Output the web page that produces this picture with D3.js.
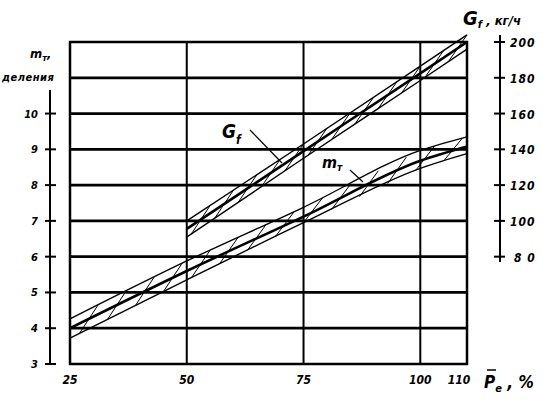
<!DOCTYPE html>
<html>
<head>
<meta charset="utf-8">
<script src="https://cdn.jsdelivr.net/npm/d3@7"></script>
<style>
 body{margin:0;background:#fff;}
 svg text{font-family:"DejaVu Sans Condensed","DejaVu Sans",sans-serif;font-style:italic;font-weight:bold;fill:#000;}
</style>
</head>
<body>
<svg id="chart" width="543" height="399"></svg>
<script>
// ---- data ----
const xTicks=[25,50,75,100,110];
const mTicks=[3,4,5,6,7,8,9,10];
const gTicks=[80,100,120,140,160,180,200];
const gridM=[4,5,6,7,8,9,10,11];
const gridX=[50,75,100];

// m_T band (scale divisions) vs load
const mLoad=[25,50,75,100,110];
const mMid=[4.0,5.6,7.12,8.68,9.08];
const mUp=[4.26,5.88,7.38,8.97,9.35];
const mLow=[3.72,5.35,6.95,8.47,8.88];

// G_f band (kg/h) vs load
const gLoad=[50,75,100,110];
const gMid=[95.5,139,182.5,200];
const gUp=[100,143,186.5,204];
const gLow=[91,135,178.5,196];

// hatch positions along the bands
const mHatch=[27,33,39,45,51,57,63,69,75,81,87,93,99,105];
const gHatch=[51,56,61,66,71,76,81,86,91,96,101,106];

const svg=d3.select("#chart");

const x=d3.scaleLinear().domain([25,110]).range([70,467]);
const y=d3.scaleLinear().domain([3,12]).range([364,42]);
const yG=d3.scaleLinear().domain([80,200]).range([y(6),y(12)]);

// ---- grid ----
svg.selectAll("line.hgrid").data(gridM).enter().append("line")
 .attr("x1",x(25)).attr("x2",x(110))
 .attr("y1",d=>y(d)).attr("y2",d=>y(d))
 .attr("stroke","#000").attr("stroke-width",2.8);

svg.selectAll("line.vgrid").data(gridX).enter().append("line")
 .attr("x1",d=>x(d)).attr("x2",d=>x(d))
 .attr("y1",y(3)).attr("y2",y(12))
 .attr("stroke","#000").attr("stroke-width",2);

svg.append("rect")
 .attr("x",x(25)).attr("y",y(12))
 .attr("width",x(110)-x(25)).attr("height",y(3)-y(12))
 .attr("fill","none").attr("stroke","#000").attr("stroke-width",2.5);

// ---- bands ----
function band(load,mid,up,low,ys,hatch){
 const line=d3.line().x((d,i)=>x(load[i])).y(d=>ys(d)).curve(d3.curveMonotoneX);
 const g=svg.append("g").attr("fill","none").attr("stroke","#000");
 g.append("path").attr("d",line(up)).attr("stroke-width",1.4);
 g.append("path").attr("d",line(low)).attr("stroke-width",1.4);
 g.append("path").attr("d",line(mid)).attr("stroke-width",2.6);
 const fUp=d3.scaleLinear().domain(load).range(up);
 const fLow=d3.scaleLinear().domain(load).range(low);
 const end=load[load.length-1];
 g.selectAll("line").data(hatch).enter().append("line")
  .attr("x1",d=>x(d)).attr("y1",d=>ys(fLow(d)))
  .attr("x2",d=>x(Math.min(d+4,end))).attr("y2",d=>ys(fUp(Math.min(d+4,end))))
  .attr("stroke-width",1);
}
band(mLoad,mMid,mUp,mLow,y,mHatch);
band(gLoad,gMid,gUp,gLow,yG,gHatch);

// ---- left axis (m_T) ----
const left=svg.append("g").attr("transform","translate(50,0)");
left.append("line").attr("y1",90).attr("y2",y(3)).attr("stroke","#000").attr("stroke-width",2);
left.selectAll("line.t").data(mTicks).enter().append("line")
 .attr("x1",-5).attr("x2",6).attr("y1",d=>y(d)).attr("y2",d=>y(d))
 .attr("stroke","#000").attr("stroke-width",2);
left.selectAll("text").data(mTicks).enter().append("text")
 .attr("x",-12).attr("y",d=>y(d)+4).attr("text-anchor","end")
 .attr("font-size",11).text(d=>d);

// ---- right axis (G_f) ----
const right=svg.append("g").attr("transform","translate(500,0)");
right.append("line").attr("y1",35).attr("y2",262).attr("stroke","#000").attr("stroke-width",2);
right.selectAll("line.t").data(gTicks).enter().append("line")
 .attr("x1",-6).attr("x2",5).attr("y1",d=>yG(d)).attr("y2",d=>yG(d))
 .attr("stroke","#000").attr("stroke-width",2);
right.selectAll("text").data(gTicks).enter().append("text")
 .attr("x",d=>d===80?14:10).attr("y",d=>yG(d)+5).attr("font-size",12)
 .attr("letter-spacing",1).text(d=>d===80?"8 0":d);

// ---- bottom tick labels ----
svg.selectAll("text.xt").data(xTicks).enter().append("text")
 .attr("x",d=>d===110?x(d)-8:x(d)).attr("y",384).attr("text-anchor","middle")
 .attr("font-size",12).text(d=>d);

// ---- axis titles ----
const xt=svg.append("text").attr("x",484).attr("y",388).attr("font-size",17).attr("font-weight","normal");
xt.append("tspan").text("P");
xt.append("tspan").attr("font-size",11).attr("dy",4).text("e");
xt.append("tspan").attr("dy",-4).text(" , %");
svg.append("line").attr("x1",487).attr("x2",496).attr("y1",370).attr("y2",370).attr("stroke","#000").attr("stroke-width",1.5);

const mt=svg.append("text").attr("x",30).attr("y",58).attr("font-size",13);
mt.append("tspan").text("m");
mt.append("tspan").attr("font-size",9).attr("dy",3).text("т");
mt.append("tspan").attr("dy",-3).text(",");
svg.append("text").attr("x",2).attr("y",81).attr("font-size",11).attr("letter-spacing",0.5).text("деления");

const gt=svg.append("text").attr("x",463).attr("y",25).attr("font-weight","normal");
gt.append("tspan").attr("font-size",20).text("G");
gt.append("tspan").attr("font-size",11).attr("dy",3).attr("font-weight","bold").text("f");
gt.append("tspan").attr("font-size",13).attr("dy",-3).attr("font-weight","bold").text(" , кг/ч");

// ---- curve labels with leaders ----
const gl=svg.append("text").attr("x",222).attr("y",138).attr("font-weight","normal");
gl.append("tspan").attr("font-size",19).text("G");
gl.append("tspan").attr("font-size",12).attr("dy",6).attr("font-weight","bold").text("f");
svg.append("line").attr("x1",250).attr("y1",130).attr("x2",282).attr("y2",163).attr("stroke","#000").attr("stroke-width",1.2);

const ml=svg.append("text").attr("x",322).attr("y",168).attr("font-size",16).attr("font-weight","normal");
ml.append("tspan").text("m");
ml.append("tspan").attr("font-size",10).attr("dy",3).attr("font-weight","bold").text("т");
svg.append("line").attr("x1",350).attr("y1",170).attr("x2",363).attr("y2",182).attr("stroke","#000").attr("stroke-width",1.2);
</script>
</body>
</html>
